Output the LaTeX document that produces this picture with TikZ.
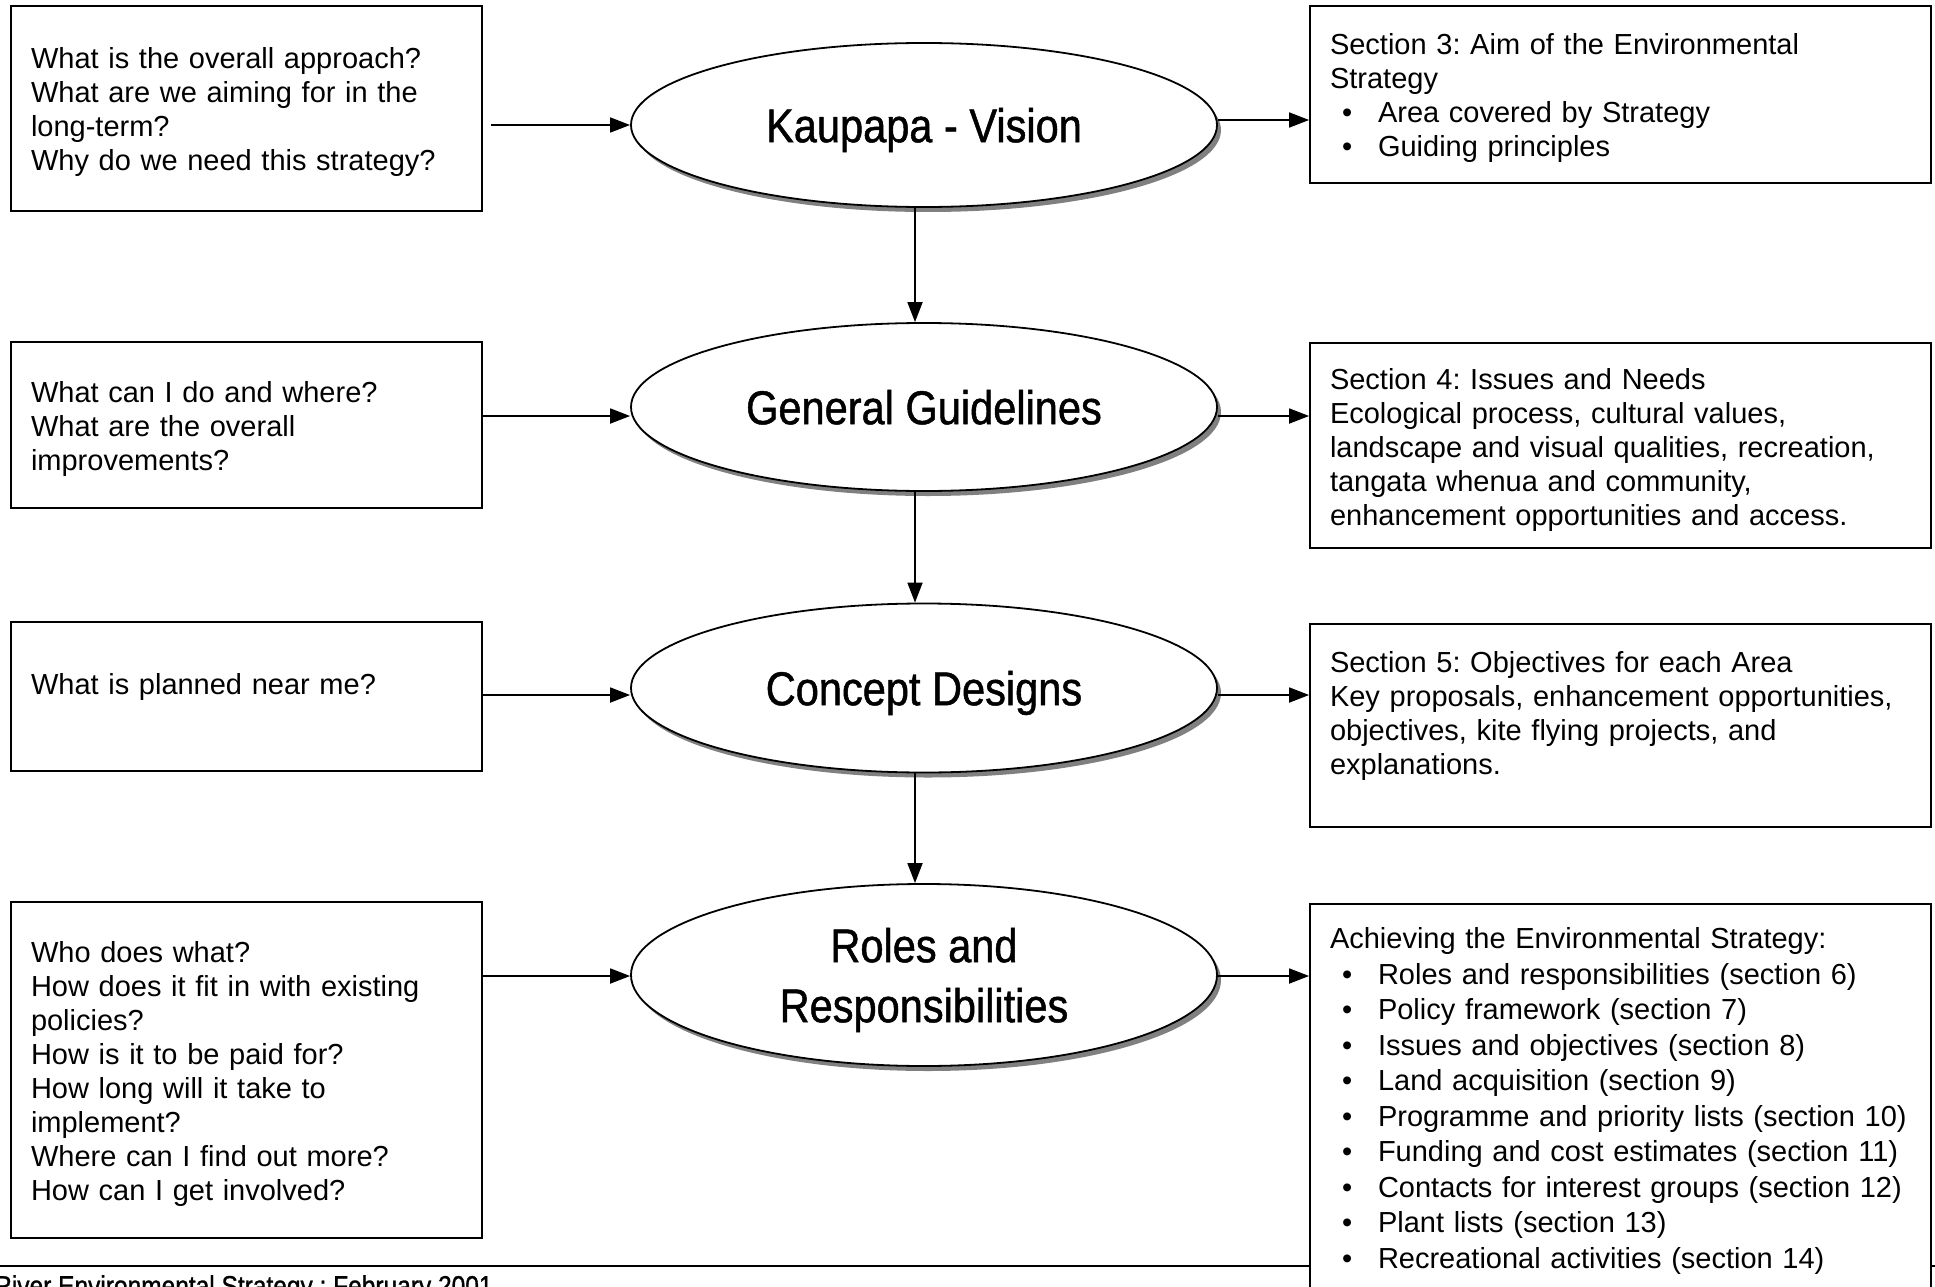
\documentclass[tikz,border=0pt]{standalone}
\usepackage{fontspec}
\setmainfont{Liberation Sans}
\newfontfamily\titlefont[FakeStretch=0.875,FakeBold=1]{Liberation Sans}
\usetikzlibrary{positioning}
\usetikzlibrary{arrows.meta}
\usetikzlibrary{shapes,shadows,calc}
\frenchspacing

\newcommand{\bul}[1]{\hspace*{12pt}\makebox[36pt][l]{\textbullet}\mbox{#1}}
\newcommand{\cellend}{\endgraf\kern-8pt}

\begin{document}
\begin{tikzpicture}[
  x=1pt, y=-1pt,
  line/.style = {line width=1.8pt},
  cell/.style = {draw, line width=1.8pt, fill=white, inner xsep=20pt, inner ysep=0pt,
    align=left, font=\fontsize{29pt}{34pt}\selectfont,
    execute at end node=\cellend},
  qbox/.style = {cell, text width=431pt, minimum height=#1},
  sbox/.style = {cell, text width=581pt, minimum height=#1},
  goal/.style = {ellipse, draw, line width=1.8pt, fill=white, minimum width=586pt,
    minimum height=#1, inner sep=0pt, align=center, text depth=0pt,
    font=\titlefont\fontsize{47.5pt}{60pt}\selectfont,
    drop shadow={shadow xshift=4pt, shadow yshift=-5pt, fill=black!50, opacity=1}},
  >={Triangle[length=20pt, width=15pt]},
]

  \useasboundingbox (0,0) rectangle (1935,1287);

  % questions
  \node[qbox=205pt] (q1) at (246.5,108.5) {What is the overall approach?\\What are we aiming for in the\\long-term?\\Why do we need this strategy?};
  \node[qbox=166pt] (q2) at (246.5,425) {What can I do and where?\\What are the overall\\improvements?};
  \node[qbox=149pt] (q3) at (246.5,696.5) {What is planned near me?\\~};
  \node[qbox=336pt] (q4) at (246.5,1070) {Who does what?\\How does it fit in with existing\\policies?\\How is it to be paid for?\\How long will it take to\\implement?\\Where can I find out more?\\How can I get involved?};

  % stages
  \node[goal=164pt] (vision) at (924,125) {Kaupapa - Vision};
  \node[goal=168pt] (guide) at (924,407) {General Guidelines};
  \node[goal=169pt] (concept) at (924,688) {Concept Designs};
  \node[goal=182pt] (roles) at (924,975) {Roles and\\Responsibilities};

  % sections
  \node[sbox=177pt] (s3) at (1620.5,94.5) {Section 3: Aim of the Environmental\\Strategy\\\bul{Area covered by Strategy}\\\bul{Guiding principles}};
  \node[sbox=205pt] (s4) at (1620.5,445.5) {Section 4: Issues and Needs\\Ecological process, cultural values,\\landscape and visual qualities, recreation,\\tangata whenua and community,\\enhancement opportunities and access.};
  \node[sbox=203pt] (s5) at (1620.5,725.5) {Section 5: Objectives for each Area\\Key proposals, enhancement opportunities,\\objectives, kite flying projects, and\\explanations.\\~};
  \node[sbox=0pt, anchor=north, inner ysep=24pt, font=\fontsize{29pt}{35.5pt}\selectfont] (s6) at (1620.5,903) {Achieving the Environmental Strategy:\\\bul{Roles and responsibilities (section 6)}\\\bul{Policy framework (section 7)}\\\bul{Issues and objectives (section 8)}\\\bul{Land acquisition (section 9)}\\\bul{Programme and priority lists (section 10)}\\\bul{Funding and cost estimates (section 11)}\\\bul{Contacts for interest groups (section 12)}\\\bul{Plant lists (section 13)}\\\bul{Recreational activities (section 14)}\\~};

  \draw[->, line] ($(q1.east |- vision.west)+(8,0)$) -- (vision.west);
  \draw[->, line] ($(q2.east |- guide.west)+(0,9)$) -- ($(guide.west)+(0,9)$);
  \draw[->, line] ($(q3.east |- concept.west)+(0,7)$) -- ($(concept.west)+(0,7)$);
  \draw[->, line] ($(q4.east |- roles.west)+(0,1)$) -- ($(roles.west)+(0,1)$);

  \draw[->, line] ($(vision.east)+(0,-5)$) -- ($(s3.west |- vision.east)+(0,-5)$);
  \draw[->, line] ($(guide.east)+(0,9)$) -- ($(s4.west |- guide.east)+(0,9)$);
  \draw[->, line] ($(concept.east)+(0,7)$) -- ($(s5.west |- concept.east)+(0,7)$);
  \draw[->, line] ($(roles.east)+(0,1)$) -- ($(s6.west |- roles.east)+(0,1)$);

  \draw[->, line] ([xshift=-9pt]vision.south) -- ([xshift=-9pt]guide.north);
  \draw[->, line] ([xshift=-9pt]guide.south) -- ([xshift=-9pt]concept.north);
  \draw[->, line] ([xshift=-9pt]concept.south) -- ([xshift=-9pt]roles.north);

  % footer
  \coordinate (footL) at (0,1266);
  \coordinate (footR) at (1935,1266);
  \draw[line] (footL) -- (footL -| s6.west);
  \draw[line] (s6.east |- footR) -- (footR);
  \node[anchor=north west, inner sep=0pt, font=\titlefont\fontsize{28pt}{28pt}\selectfont] (footer) at (-6,1275) {River Environmental Strategy : February 2001};

\end{tikzpicture}
\end{document}
